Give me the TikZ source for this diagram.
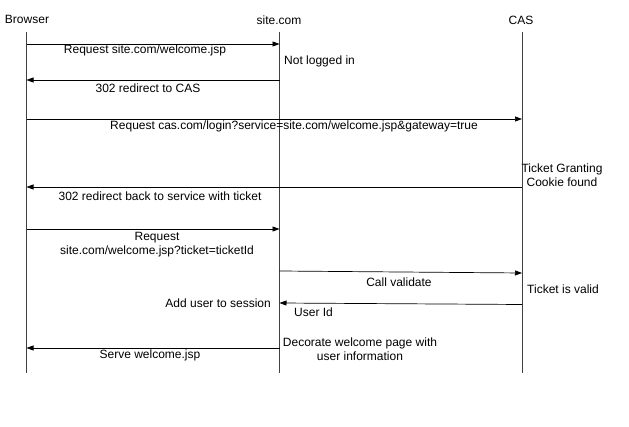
\documentclass[tikz,border=0pt]{standalone}
\usepackage{fontspec}
\setmainfont{Liberation Sans}
\usetikzlibrary{arrows.meta}

\tikzset{
	lifeline/.style = {draw=black!75, line width=0.8pt},
	msg/.style = {draw=black, line width=0.7pt, -{Triangle[length=7pt, width=5pt]}},
	txt/.style = {font=\fontsize{12}{14}\selectfont, inner sep=0pt, align=center}
}

\begin{document}
\begin{tikzpicture}[x=1pt, y=-1pt]
	\useasboundingbox (0,0) rectangle (629,427);
	% participants
	\node[txt] (browser) at (27,19) {Browser};
	\node[txt] (site) at (279,20) {site.com};
	\node[txt] (cas) at (521,20) {CAS};
	\coordinate (bTop) at (26.5,32);  \coordinate (bEnd) at (26.5,373);
	\coordinate (sTop) at (279.5,32); \coordinate (sEnd) at (279.5,373);
	\coordinate (cTop) at (522,32);   \coordinate (cEnd) at (522,373);
	\draw[lifeline] (bTop) -- (bEnd);
	\draw[lifeline] (sTop) -- (sEnd);
	\draw[lifeline] (cTop) -- (cEnd);
	% message ends on the lifelines
	\coordinate (b1) at (26.5,44);  \coordinate (s1) at (279.5,44);
	\coordinate (b2) at (26.5,80);  \coordinate (s2) at (279.5,80);
	\coordinate (b3) at (26.5,119); \coordinate (c3) at (522,119);
	\coordinate (b4) at (26.5,187); \coordinate (c4) at (522,187);
	\coordinate (b5) at (26.5,229); \coordinate (s5) at (279.5,229);
	\coordinate (s6) at (279.5,271); \coordinate (c6) at (522,273);
	\coordinate (s7) at (279.5,303); \coordinate (c7) at (522,304.5);
	\coordinate (b8) at (26.5,348); \coordinate (s8) at (279.5,348);
	% messages
	\draw[msg] (b1) -- (s1);
	\node[txt] (req1) at (145,50) {Request site.com/welcome.jsp};
	\node[txt, anchor=west] (notlogged) at (284,61) {Not logged in};
	\draw[msg] (s2) -- (b2);
	\node[txt] (redir1) at (148,88) {302 redirect to CAS};
	\draw[msg] (b3) -- (c3);
	\node[txt] (req2) at (294,126) {Request cas.com/login?service=site.com/welcome.jsp\&gateway=true};
	\node[txt] (tgc) at (562,175) {Ticket Granting\\Cookie found};
	\draw[msg] (c4) -- (b4);
	\node[txt] (redir2) at (160,196) {302 redirect back to service with ticket};
	\draw[msg] (b5) -- (s5);
	\node[txt] (req3) at (157,245) {Request\\site.com/welcome.jsp?ticket=ticketId};
	\draw[msg] (s6) -- (c6);
	\node[txt] (validate) at (399,282) {Call validate};
	\node[txt, anchor=west] (valid) at (527,289) {Ticket is valid};
	\draw[msg] (c7) -- (s7);
	\node[txt, anchor=west] (userid) at (294,312) {User Id};
	\node[txt, anchor=east] (session) at (271,303) {Add user to session};
	\node[txt] (decorate) at (360,349) {Decorate welcome page with\\user information};
	\draw[msg] (s8) -- (b8);
	\node[txt] (serve) at (150,355) {Serve welcome.jsp};
\end{tikzpicture}
\end{document}
